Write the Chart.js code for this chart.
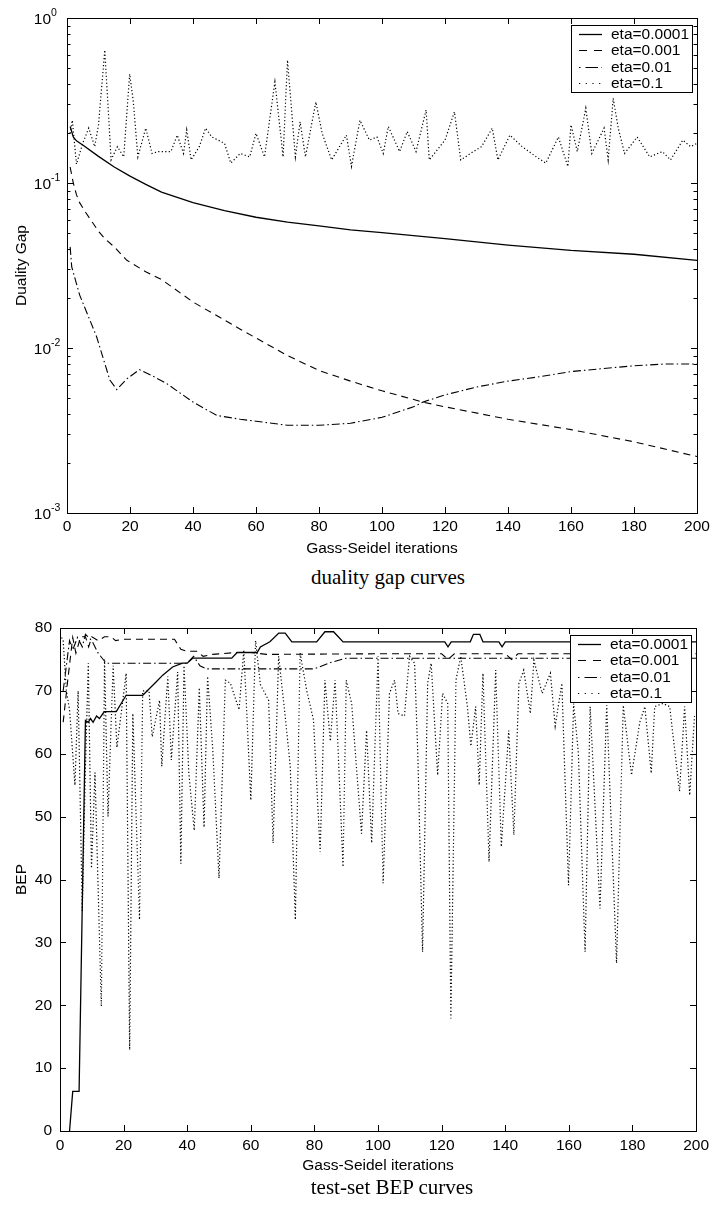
<!DOCTYPE html>
<html>
<head>
<meta charset="utf-8">
<script src="https://cdn.jsdelivr.net/npm/chart.js@4.4.1/dist/chart.umd.min.js"></script>
<style>
  html, body { margin: 0; padding: 0; background: #fff; }
  #page { position: relative; width: 714px; height: 1209px; overflow: hidden; background: #fff; }
  canvas { position: absolute; left: 0; }
  #gapCanvas { top: 0; }
  #bepCanvas { top: 600px; }
  .caption { position: absolute; width: 400px; text-align: center; color: #000;
             font: 21px/21px "Liberation Serif", "Times New Roman", serif; white-space: nowrap; }
</style>
</head>
<body>
<div id="page">
  <canvas id="gapCanvas" width="714" height="565"></canvas>
  <div class="caption" style="left:188px; top:567px;">duality gap curves</div>
  <canvas id="bepCanvas" width="714" height="580"></canvas>
  <div class="caption" style="left:192px; top:1177px;">test-set BEP curves</div>
</div>
<script>
// ── shared axis values ─────────────────────────────
const iterTicks   = [0, 20, 40, 60, 80, 100, 120, 140, 160, 180, 200];
const etaLabels   = ['eta=0.0001', 'eta=0.001', 'eta=0.01', 'eta=0.1'];

// ── duality gap (top, log y) ───────────────────────
const gapMajorTicks = [0.001, 0.01, 0.1, 1];
const gapTickExps   = ['-3', '-2', '-1', '0'];
const gapMinorMult  = [2, 3, 4, 5, 6, 7, 8, 9];

const gapX1 = [1, 2, 3, 5, 10, 15, 20, 25, 30, 40, 50, 60, 70, 80, 90, 100, 120, 140, 160, 180, 200];
const gap1  = [0.22, 0.19, 0.18, 0.17, 0.145, 0.125, 0.11, 0.098, 0.088, 0.076, 0.068, 0.062, 0.058, 0.055, 0.052, 0.05, 0.046, 0.042, 0.039, 0.037, 0.034];

const gapX2 = [1, 2, 3, 4, 6, 8, 10, 12, 15, 19, 25, 30, 40, 55, 60, 70, 80, 90, 100, 113, 120, 140, 160, 180, 200];
const gap2  = [0.125, 0.1, 0.085, 0.076, 0.066, 0.058, 0.051, 0.046, 0.041, 0.034, 0.029, 0.026, 0.019, 0.013, 0.0115, 0.009, 0.0073, 0.0063, 0.0055, 0.0047, 0.0044, 0.0037, 0.0032, 0.0027, 0.0022];

const gapX3 = [1, 1.5, 4, 9.4, 13.6, 15.8, 19, 23, 27, 31.6, 40, 47.6, 55, 60, 70, 80, 90, 100, 110, 113, 120, 130, 140, 150, 160, 170, 180, 190, 200];
const gap3  = [0.041, 0.031, 0.021, 0.0117, 0.0064, 0.0056, 0.0065, 0.0074, 0.0068, 0.0061, 0.0047, 0.0039, 0.0037, 0.0036, 0.0034, 0.0034, 0.0035, 0.0038, 0.0044, 0.0047, 0.0052, 0.0058, 0.0063, 0.0067, 0.0072, 0.0075, 0.0078, 0.008, 0.008];

const gapX4 = [1, 1.7, 3, 5, 6.9, 8.8, 10, 12, 14, 16, 18, 19.9, 21, 22.5, 25, 27, 29, 33, 35, 37, 38, 39.4, 42, 44, 46, 50, 52, 55, 58, 60, 62.7, 66, 68.6, 70, 72.5, 74, 75.7, 79, 81, 84, 88.7, 90.3, 93, 96, 98.4, 100.4, 102, 105.6, 108, 110.8, 114, 115, 120, 123, 125, 129, 131.6, 135, 136.8, 140.6, 144.5, 149, 152, 156, 159, 160, 162, 164.7, 166.6, 170.5, 171.8, 173.4, 175, 177, 181, 185, 189, 191.6, 195.5, 198, 200];
const gap4  = [0.2, 0.24, 0.13, 0.174, 0.215, 0.166, 0.225, 0.64, 0.138, 0.166, 0.144, 0.457, 0.318, 0.144, 0.215, 0.151, 0.155, 0.155, 0.195, 0.151, 0.21, 0.138, 0.166, 0.215, 0.19, 0.174, 0.132, 0.151, 0.144, 0.2, 0.144, 0.41, 0.144, 0.556, 0.144, 0.235, 0.144, 0.31, 0.2, 0.138, 0.195, 0.126, 0.24, 0.182, 0.19, 0.151, 0.22, 0.155, 0.205, 0.155, 0.277, 0.138, 0.182, 0.27, 0.138, 0.155, 0.166, 0.215, 0.138, 0.195, 0.166, 0.144, 0.132, 0.19, 0.126, 0.225, 0.155, 0.284, 0.151, 0.215, 0.138, 0.326, 0.215, 0.151, 0.19, 0.144, 0.155, 0.138, 0.182, 0.166, 0.174];

// ── test-set BEP (bottom, linear y) ────────────────
const bepTicks = [0, 10, 20, 30, 40, 50, 60, 70, 80];

const bepX1 = [3, 4, 6, 8, 8.9, 9.6, 10.4, 11.5, 12.4, 13.5, 14, 17.7, 20.8, 26, 27.6, 30.2, 32.3, 35.4, 38.5, 40, 41.7, 54, 55.7, 62, 63, 66, 68.8, 70.8, 72.9, 80.7, 83.3, 86, 87.5, 89, 121, 122, 123, 129, 130, 132, 133, 138, 139, 140, 200];
const bep1  = [0, 6.3, 6.3, 65.3, 65, 65.6, 65, 66, 65.6, 66.4, 66.7, 66.7, 69.3, 69.3, 70.1, 71.4, 72.5, 73.8, 74.4, 74.4, 75.2, 75.2, 76.1, 76.1, 77, 77.8, 79.2, 79.2, 77.8, 77.8, 79.4, 79.4, 78.6, 77.8, 77.8, 77, 77.8, 77.8, 79, 79, 77.8, 77.8, 77, 77.8, 77.8];

const bepX2 = [1, 2.5, 4, 5, 6.5, 8, 9, 10, 12, 14, 16, 17.5, 20, 36, 38, 40, 43, 45, 48, 55, 60, 65, 100, 120, 122, 124, 140, 142, 144, 200];
const bep2  = [65, 72, 78.5, 76, 78.6, 78.6, 77, 78.6, 78, 78.6, 78.6, 78, 78.2, 78.2, 76.6, 76.3, 76.3, 75.5, 75.8, 76.1, 76.1, 75.8, 75.9, 75.9, 75, 75.9, 75.9, 75, 75.9, 75.9];

const bepX3 = [1, 3, 4, 5.5, 7, 8, 10, 12, 14.5, 40, 42, 44, 46, 80, 85, 90, 200];
const bep3  = [70, 78, 76.5, 78.5, 77, 79, 78, 76, 74.4, 74.4, 75.5, 74, 73.5, 73.5, 74.5, 75.2, 75.2];

const bepX4 = [0, 1, 2, 3, 4.7, 5.7, 7, 8, 8.9, 9.9, 11, 13, 14, 15.1, 16.7, 17.9, 20.8, 21.9, 22.9, 25, 26, 28, 29, 31.3, 32, 33.9, 35, 37, 38, 39, 40.5, 42.2, 43.8, 45.3, 46.4, 48, 50, 52, 53.6, 56.3, 57.8, 60, 61.5, 63, 65.6, 67, 68.75, 70.8, 72.4, 74, 75.5, 77.6, 79.7, 81.8, 83.3, 85, 86.5, 89, 90, 91.7, 94.8, 96.4, 98, 100, 101.6, 103.6, 105.2, 106.3, 108.3, 109.9, 111.5, 112.5, 114, 115.6, 116.7, 118.75, 120.3, 121.9, 122.9, 124.5, 126, 128.1, 129.2, 130.7, 131.8, 133, 134.9, 137, 138.75, 141.1, 142.7, 144.3, 145.8, 147.9, 149, 151.6, 154.2, 155.7, 157.8, 159.9, 161.5, 163, 165.1, 166.7, 169.8, 171.9, 175, 177.1, 179.7, 182.3, 183.9, 185.9, 187, 189.6, 191.7, 194.8, 196.4, 198, 199.5];
const bep4  = [79, 78, 70, 67, 55, 70, 35, 58, 74.4, 41.8, 57, 19.8, 75, 50, 74, 61, 72.8, 12.9, 66.4, 33.6, 70, 70, 62.7, 68.5, 58, 72.3, 59, 73, 42.5, 74, 57, 47.8, 70.5, 48.3, 72.3, 61, 40.2, 71.7, 71.2, 67, 76.5, 52.6, 78, 71, 68.5, 45.8, 75.5, 66, 58, 33.6, 76, 70, 65.4, 44.4, 71.7, 62, 71.7, 42, 71.7, 68, 47.3, 63.7, 45.8, 75.5, 39.4, 69.6, 71.7, 66.4, 66, 75.5, 74.4, 60, 28.5, 71.2, 74.4, 56.6, 69.6, 68, 17.9, 71.7, 75.5, 67.5, 61.2, 67.5, 55, 72.8, 42.8, 73.3, 45.2, 63.7, 47.1, 71.2, 73.3, 66.4, 74.9, 69.6, 72.8, 64.4, 71.2, 39.1, 68, 60, 28.5, 67.5, 35.4, 67.7, 26.7, 67.7, 56.6, 65, 67.5, 56.9, 67.5, 68, 67.5, 54, 67.5, 53.4, 66];

// ── styling ────────────────────────────────────────
const FONT = '"Liberation Sans", Arial, Helvetica, sans-serif';
const FS = 15.5;
const lineStyles = [
  { borderDash: [],                 borderWidth: 1.3, legendDash: [] },
  { borderDash: [7, 5],             borderWidth: 1.1, legendDash: [8, 7] },
  { borderDash: [8, 3, 1.5, 3],     borderWidth: 1.1, legendDash: [1.5, 5, 12.5, 3.5] },
  { borderDash: [1.2, 2.3],         borderWidth: 1.2, legendDash: [1.2, 5.5] },
];

function pts(xs, ys) { return xs.map((x, i) => ({ x, y: ys[i] })); }

function makeDatasets(series) {
  return series.map((s, i) => ({
    label: etaLabels[i],
    data: pts(s[0], s[1]),
    borderColor: '#000',
    backgroundColor: '#000',
    pointRadius: 0,
    fill: false,
    tension: 0,
    ...lineStyles[i],
  }));
}

// box around the plot with inward tick marks on all four sides
const frameTicks = {
  id: 'frameTicks',
  afterDatasetsDraw(chart) {
    const { ctx, chartArea: a, scales } = chart;
    const line = (x1, y1, x2, y2) => { ctx.moveTo(x1, y1); ctx.lineTo(x2, y2); };
    ctx.save();
    ctx.strokeStyle = '#000';
    ctx.lineWidth = 1;
    ctx.setLineDash([]);
    ctx.beginPath();
    scales.x.ticks.forEach(t => {
      const px = Math.round(scales.x.getPixelForValue(t.value)) + 0.5;
      line(px, a.bottom, px, a.bottom - 6);
      line(px, a.top, px, a.top + 6);
    });
    scales.y.ticks.forEach(t => {
      const py = Math.round(scales.y.getPixelForValue(t.value)) + 0.5;
      const len = t.minor ? 3.5 : 6;
      line(a.left, py, a.left + len, py);
      line(a.right, py, a.right - len, py);
    });
    ctx.stroke();
    ctx.strokeRect(Math.round(a.left) + 0.5, Math.round(a.top) + 0.5, Math.round(a.width), Math.round(a.height));
    ctx.restore();
  }
};

// MATLAB-like legend box in the upper right corner
const boxLegend = {
  id: 'boxLegend',
  afterDatasetsDraw(chart) {
    const { ctx, chartArea: a } = chart;
    const sets = chart.data.datasets;
    ctx.save();
    ctx.font = FS + 'px ' + FONT;
    const textW = Math.max(...sets.map(d => ctx.measureText(d.label).width));
    const rowH = 16.1;
    const w = Math.round(40 + textW + 3), h = Math.round(rowH * sets.length + 3);
    const left = Math.round(a.right - 5 - w), top = Math.round(a.top + 7);
    ctx.fillStyle = '#fff';
    ctx.fillRect(left, top, w, h);
    ctx.strokeStyle = '#000';
    ctx.lineWidth = 1;
    ctx.setLineDash([]);
    ctx.strokeRect(left + 0.5, top + 0.5, w, h);
    sets.forEach((d, i) => {
      const y = Math.round(top + 9.3 + i * rowH) + 0.5;
      ctx.setLineDash(d.legendDash);
      ctx.lineWidth = d.borderWidth;
      ctx.beginPath();
      ctx.moveTo(left + 8, y);
      ctx.lineTo(left + 31, y);
      ctx.stroke();
      ctx.setLineDash([]);
      ctx.fillStyle = '#000';
      ctx.textAlign = 'left';
      ctx.textBaseline = 'middle';
      ctx.fillText(d.label, left + 40, y + 0.5);
    });
    ctx.restore();
  }
};

// 10^n labels with raised exponents for the log axis
const powerLabels = {
  id: 'powerLabels',
  afterDraw(chart) {
    const { ctx, chartArea: a, scales } = chart;
    ctx.save();
    ctx.fillStyle = '#000';
    gapMajorTicks.forEach((v, i) => {
      const py = scales.y.getPixelForValue(v);
      ctx.font = FS + 'px ' + FONT;
      ctx.textAlign = 'right';
      ctx.textBaseline = 'middle';
      ctx.fillText('10', a.left - 16, py + 2);
      ctx.font = '10.5px ' + FONT;
      ctx.textAlign = 'left';
      ctx.fillText(gapTickExps[i], a.left - 16, py - 5);
    });
    ctx.restore();
  }
};

function xAxis(height, tickPad, titlePad) {
  return {
    type: 'linear', min: 0, max: 200,
    afterBuildTicks: s => { s.ticks = iterTicks.map(v => ({ value: v })); },
    ticks: { color: '#000', font: { family: FONT, size: FS }, padding: tickPad, maxRotation: 0, autoSkip: false },
    grid: { display: false, drawTicks: false },
    border: { display: false },
    title: { display: true, text: 'Gass-Seidel iterations', color: '#000',
             font: { family: FONT, size: FS }, padding: { top: 0, bottom: titlePad } },
    afterFit: s => { s.height = height; },
  };
}

Chart.defaults.animation = false;

new Chart(document.getElementById('gapCanvas'), {
  type: 'line',
  data: { datasets: makeDatasets([[gapX1, gap1], [gapX2, gap2], [gapX3, gap3], [gapX4, gap4]]) },
  options: {
    responsive: false,
    layout: { padding: { left: 0, top: 18, right: 17, bottom: 0 } },
    plugins: { legend: { display: false }, tooltip: { enabled: false } },
    scales: {
      x: xAxis(52, 4, 7),
      y: {
        type: 'logarithmic', min: 0.001, max: 1,
        afterBuildTicks: s => {
          const t = [];
          gapMajorTicks.forEach((m, i) => {
            t.push({ value: m, major: true });
            if (i < gapMajorTicks.length - 1) gapMinorMult.forEach(k => t.push({ value: k * m, minor: true }));
          });
          s.ticks = t;
        },
        ticks: { display: false },
        grid: { display: false, drawTicks: false },
        border: { display: false },
        title: { display: true, text: 'Duality Gap', color: '#000',
                 font: { family: FONT, size: FS }, padding: { top: 12, bottom: 0 } },
        afterFit: s => { s.width = 67; },
      },
    },
  },
  plugins: [frameTicks, boxLegend, powerLabels],
});

new Chart(document.getElementById('bepCanvas'), {
  type: 'line',
  data: { datasets: makeDatasets([[bepX1, bep1], [bepX2, bep2], [bepX3, bep3], [bepX4, bep4]]) },
  options: {
    responsive: false,
    layout: { padding: { left: 0, top: 28, right: 14, bottom: 0 } },
    plugins: { legend: { display: false }, tooltip: { enabled: false } },
    scales: {
      x: xAxis(49, 5, 5),
      y: {
        type: 'linear', min: 0, max: 80,
        afterBuildTicks: s => { s.ticks = bepTicks.map(v => ({ value: v })); },
        ticks: { color: '#000', font: { family: FONT, size: FS }, padding: 8 },
        grid: { display: false, drawTicks: false },
        border: { display: false },
        title: { display: true, text: 'BEP', color: '#000',
                 font: { family: FONT, size: FS }, padding: { top: 12, bottom: 0 } },
        afterFit: s => { s.width = 60; },
      },
    },
  },
  plugins: [frameTicks, boxLegend],
});
</script>
</body>
</html>
